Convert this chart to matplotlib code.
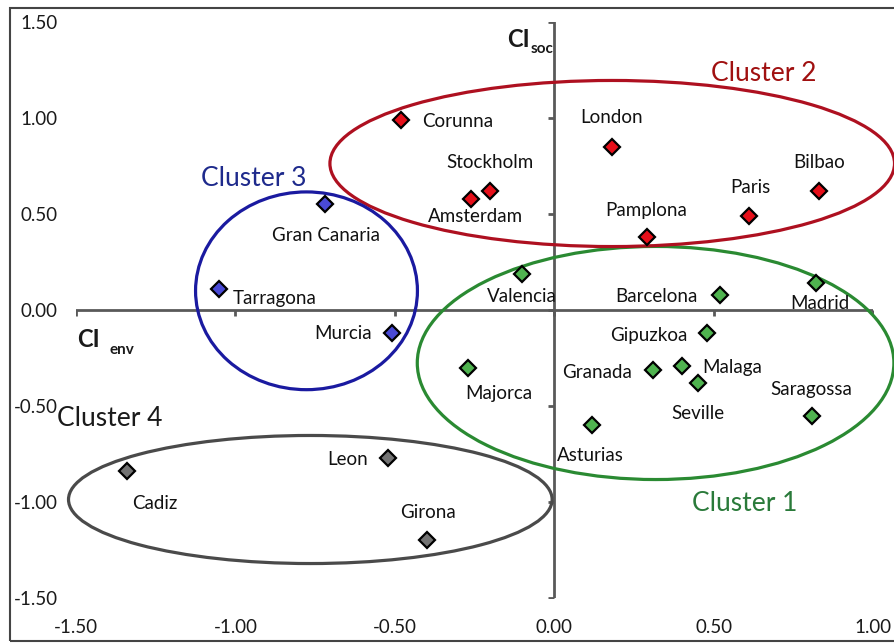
import matplotlib
matplotlib.use("Agg")
import matplotlib.pyplot as plt
from matplotlib.patches import Ellipse, Rectangle

plt.rcParams['font.family'] = ['Lato', 'DejaVu Sans']

# Données (CI env, CI soc) par cluster
c1_names = ["Valencia", "Barcelona", "Madrid", "Gipuzkoa", "Majorca", "Granada",
            "Malaga", "Seville", "Saragossa", "Asturias"]
c1_x = [-0.10, 0.52, 0.82, 0.48, -0.27, 0.31, 0.40, 0.45, 0.81, 0.12]
c1_y = [0.19, 0.08, 0.14, -0.12, -0.30, -0.31, -0.29, -0.38, -0.55, -0.60]

c2_names = ["Corunna", "London", "Stockholm", "Amsterdam", "Bilbao", "Paris", "Pamplona"]
c2_x = [-0.48, 0.18, -0.20, -0.26, 0.83, 0.61, 0.29]
c2_y = [0.99, 0.85, 0.62, 0.58, 0.62, 0.49, 0.38]

c3_names = ["Gran Canaria", "Tarragona", "Murcia"]
c3_x = [-0.72, -1.05, -0.51]
c3_y = [0.55, 0.11, -0.12]

c4_names = ["Cadiz", "Leon", "Girona"]
c4_x = [-1.34, -0.52, -0.40]
c4_y = [-0.84, -0.77, -1.20]

ticks = [-1.5, -1.0, -0.5, 0.0, 0.5, 1.0, 1.5]

# décalage des étiquettes (pixels) et alignement
offsets = {
    "Corunna": (21, -2, 'left'), "London": (0, 29, 'center'),
    "Stockholm": (0, 28, 'center'), "Amsterdam": (4, -18, 'center'),
    "Bilbao": (0, 28, 'center'), "Paris": (2, 28, 'center'),
    "Pamplona": (0, 27, 'center'), "Gran Canaria": (1, -31, 'center'),
    "Tarragona": (13, -10, 'left'), "Murcia": (-20, 0, 'right'),
    "Valencia": (0, -23, 'center'), "Barcelona": (-22, -2, 'right'),
    "Madrid": (4, -20, 'center'), "Gipuzkoa": (-20, -2, 'right'),
    "Majorca": (31, -26, 'center'), "Granada": (-21, -3, 'right'),
    "Malaga": (21, -2, 'left'), "Seville": (0, -31, 'center'),
    "Saragossa": (-1, 26, 'center'), "Asturias": (-2, -30, 'center'),
    "Cadiz": (28, -32, 'center'), "Leon": (-20, -2, 'right'),
    "Girona": (1, 28, 'center'),
}

fig = plt.figure(figsize=(8.95, 6.44), dpi=100)
ax = fig.add_axes([76 / 895, 46 / 644, 797 / 895, 576 / 644])
ax.set_xlim(-1.5, 1.0)
ax.set_ylim(-1.5, 1.5)
for s in ax.spines.values():
    s.set_visible(False)

axc = '#595959'
ax.axhline(0, color=axc, lw=2, zorder=1)
ax.axvline(0, color=axc, lw=2, zorder=1)
xt = [t for t in ticks if t <= 1.0]
ax.plot(xt, [0] * len(xt), ls='none', marker=3, ms=4, mew=2, color=axc, zorder=1)
ax.plot([0] * len(ticks), ticks, ls='none', marker=0, ms=4, mew=2, color=axc, zorder=1)

ax.set_xticks(xt)
ax.set_yticks(ticks)
ax.set_xticklabels([f"{t:.2f}" for t in xt])
ax.set_yticklabels([f"{t:.2f}" for t in ticks])
ax.tick_params(axis='x', length=0, pad=15, labelsize=13.5, labelcolor='#1a1a1a')
ax.tick_params(axis='y', length=0, pad=13, labelsize=13.5, labelcolor='#1a1a1a')

# ellipses des clusters
ells = [
    ((0.318, -0.276), 1.495, 1.214, '#2a8a32'),
    ((0.182, 0.763), 1.771, 0.865, '#ae1020'),
    ((-0.777, 0.10), 0.696, 1.03, '#1a1aa0'),
    ((-0.765, -0.987), 1.517, 0.667, '#4a4a4a'),
]
for (cx, cy), w, h, col in ells:
    ax.add_patch(Ellipse((cx, cy), w, h, fill=False, ec=col, lw=2.3, zorder=2, clip_on=False))

groups = [
    (c1_names, c1_x, c1_y, '#4fb34f'),
    (c2_names, c2_x, c2_y, '#e60f1a'),
    (c3_names, c3_x, c3_y, '#4a4ad6'),
    (c4_names, c4_x, c4_y, '#737373'),
]
for names, xs, ys, col in groups:
    ax.plot(xs, ys, ls='none', marker='D', ms=7.8, mfc=col, mec='black', mew=1.6, zorder=3)
    for n, x, y in zip(names, xs, ys):
        dx, dy, ha = offsets[n]
        ax.annotate(n, (x, y), xytext=(dx, dy), textcoords='offset pixels',
                    ha=ha, va='center', fontsize=13.5, color='#111111', zorder=4)

# noms des clusters
ax.text(0.658, 1.232, "Cluster 2", color='#a01010', fontsize=19, ha='center', va='center')
ax.text(-0.944, 0.685, "Cluster 3", color='#1e2a8c', fontsize=19, ha='center', va='center')
ax.text(0.596, -1.008, "Cluster 1", color='#2a7a3a', fontsize=19, ha='center', va='center')
ax.text(-1.395, -0.565, "Cluster 4", color='#1a1a1a', fontsize=19, ha='center', va='center')

# titres des axes
ax.text(-0.078, 1.409, "CI", fontsize=17, fontweight='bold', ha='right', va='center', color='#1a1a1a')
ax.text(-0.075, 1.357, "soc", fontsize=11, fontweight='bold', ha='left', va='center', color='#1a1a1a')
ax.text(-1.495, -0.154, "CI", fontsize=17, fontweight='bold', ha='left', va='center', color='#1a1a1a')
ax.text(-1.395, -0.206, "env", fontsize=11, fontweight='bold', ha='left', va='center', color='#1a1a1a')

# cadre extérieur
fig.patches.append(Rectangle((10 / 895, 3 / 644), 900 / 895, 633 / 644, transform=fig.transFigure,
                             fill=False, ec='#444444', lw=1.5))

fig.savefig("out.png", dpi=100)
